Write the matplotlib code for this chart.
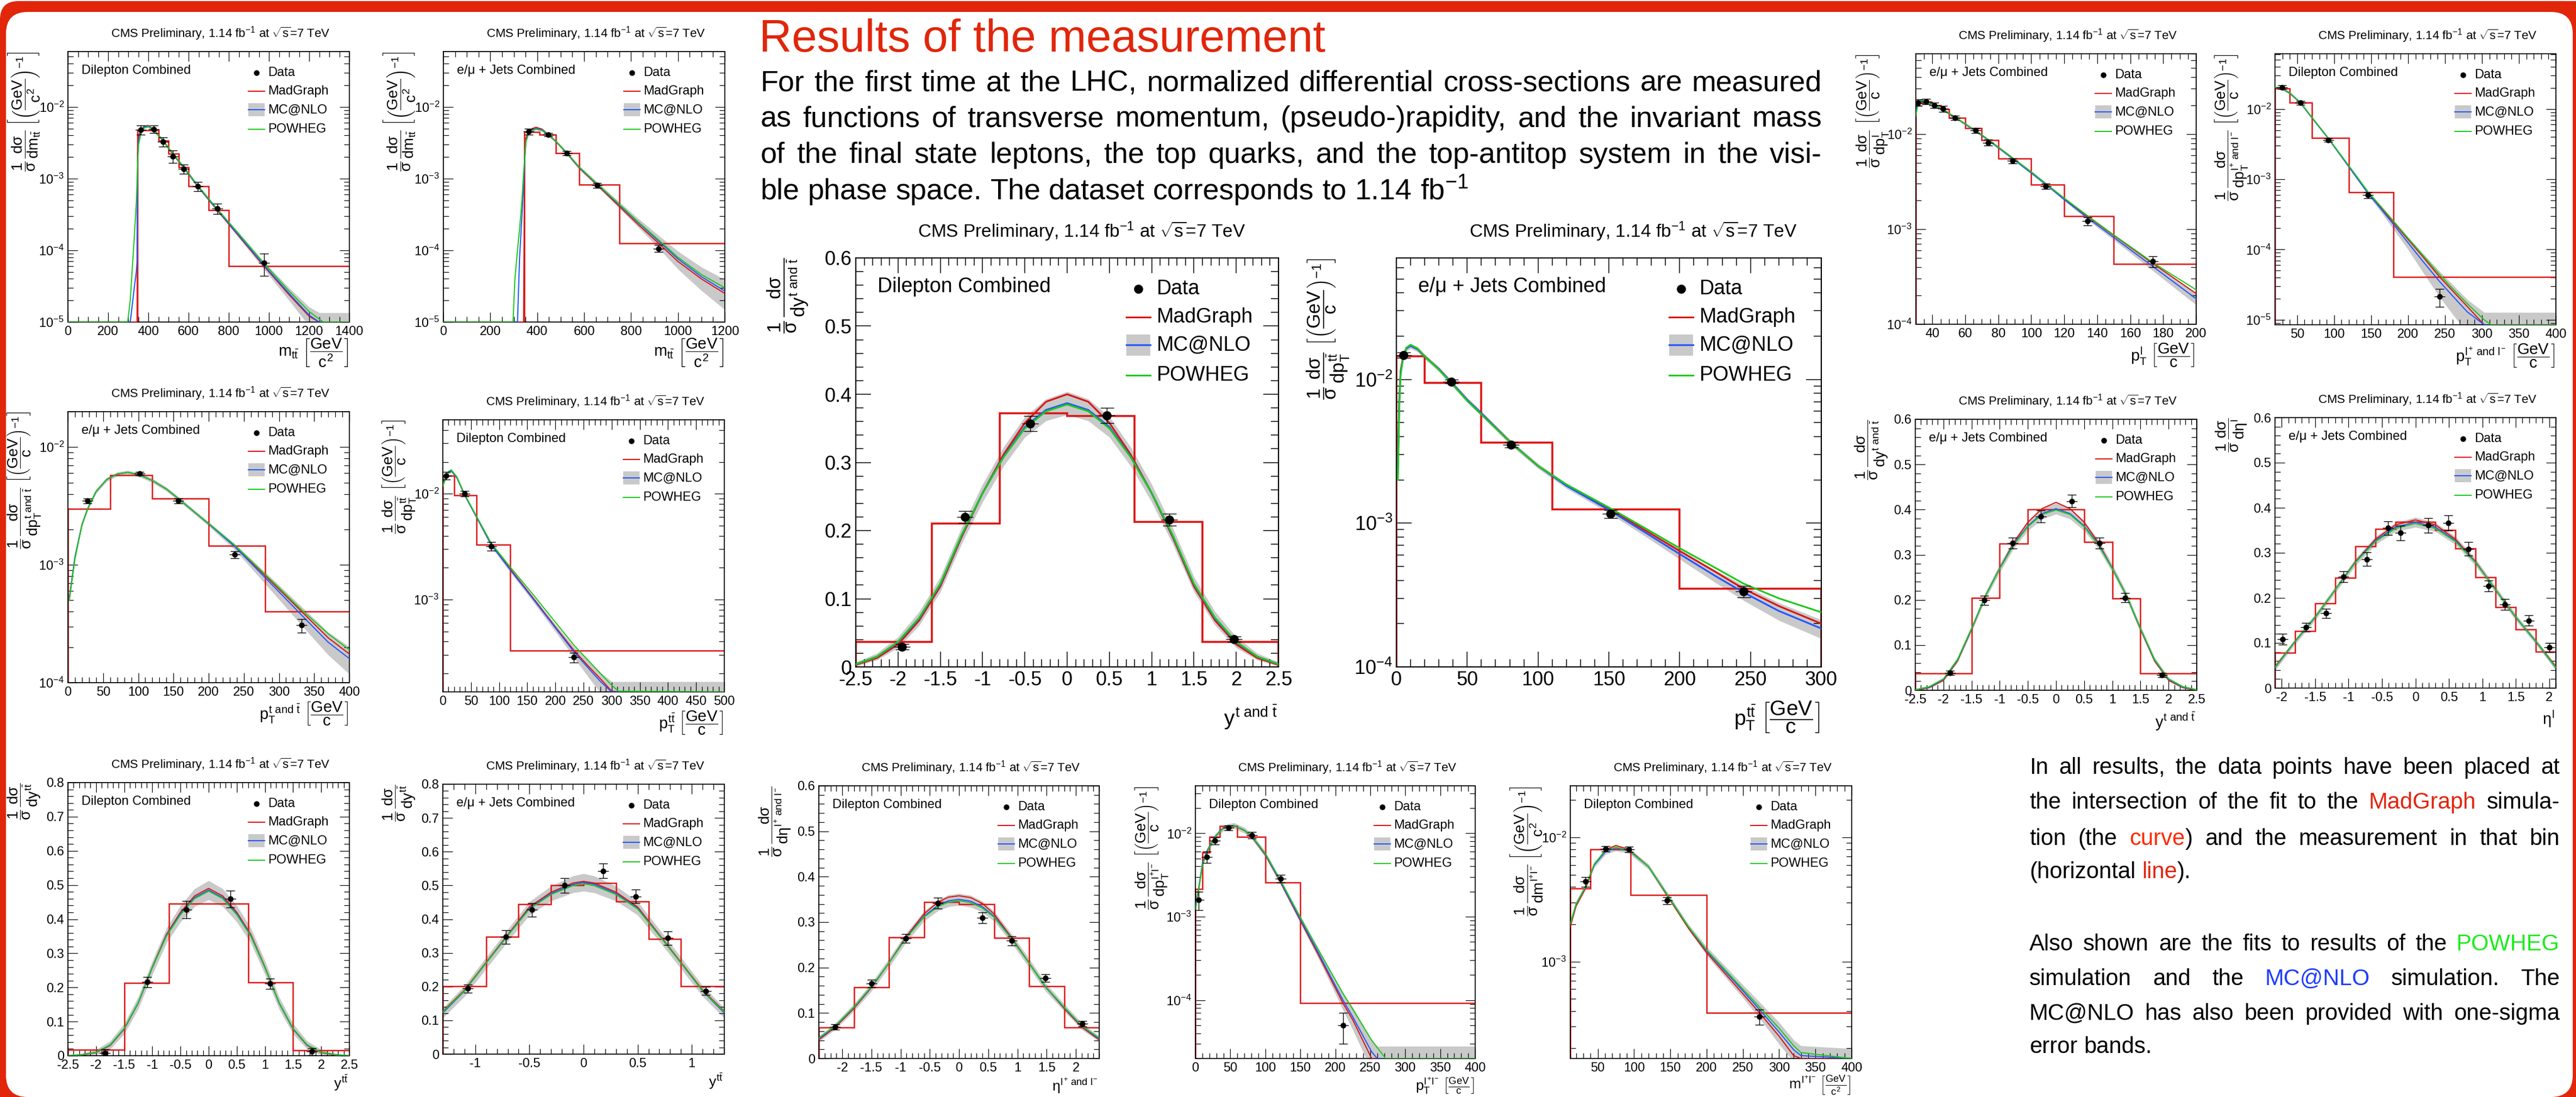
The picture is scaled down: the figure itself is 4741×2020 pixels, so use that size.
import re
import numpy as np
import matplotlib
matplotlib.use("Agg")
import matplotlib.pyplot as plt
from matplotlib.patches import FancyBboxPatch, Rectangle
from matplotlib.lines import Line2D
from matplotlib.ticker import (MultipleLocator, LogLocator, NullFormatter,
                               FuncFormatter, LogFormatterMathtext)

plt.rcParams['font.family'] = ['Liberation Sans', 'DejaVu Sans']
plt.rcParams['mathtext.fontset'] = 'custom'
plt.rcParams['mathtext.rm'] = 'Liberation Sans'
plt.rcParams['mathtext.it'] = 'Liberation Sans'
plt.rcParams['mathtext.bf'] = 'Liberation Sans:bold'
plt.rcParams['mathtext.sf'] = 'Liberation Sans'
plt.rcParams['axes.unicode_minus'] = False

# ======================= DATA =======================
# P1  Dilepton, m_tt
p1_edges = [345, 400, 450, 500, 550, 600, 700, 800, 1400]
p1_bins = [0.00474, 0.00474, 0.00339, 0.00221, 0.00144, 0.000785, 0.000364, 6.03e-5]
p1_x = [363, 428, 473, 521, 575, 645, 742, 975]
p1_y = [0.0048, 0.0049, 0.00327, 0.00205, 0.00136, 0.000785, 0.000384, 6.67e-5]
p1_err = [0.0007, 0.0006, 0.0005, 0.0004, 0.0002, 0.00012, 0.00006, 2.3e-5]
p1_cx = [0, 297, 310, 330, 340, 344, 346, 352, 363, 380, 400, 428, 473, 521, 575, 645, 742, 850, 975, 1100, 1200, 1250, 1270, 1400]
p1_mg = [1e-5, 1e-5, 1e-5, 1e-5, 1e-5, 1e-5, 0.0022, 0.0040, 0.00474, 0.0054, 0.0055, 0.00474, 0.00339, 0.00221, 0.00144, 7.85e-4, 3.64e-4, 1.58e-4, 6.03e-5, 2.4e-5, 1.2e-5, 1e-5, 1e-5, 1e-5]
p1_nlo = [1e-5, 1e-5, 1e-5, 3e-5, 5e-5, 7e-5, 0.0015, 0.0035, 0.0046, 0.0053, 0.0054, 0.0047, 0.0034, 0.00222, 0.00145, 7.9e-4, 3.7e-4, 1.62e-4, 6.2e-5, 2.5e-5, 1.25e-5, 1e-5, 1e-5, 1e-5]
p1_pow = [1e-5, 1e-5, 2e-5, 1.5e-4, 4.5e-4, 9e-4, 0.0015, 0.003, 0.0043, 0.0051, 0.0053, 0.0047, 0.0034, 0.00224, 0.00147, 8.1e-4, 3.8e-4, 1.7e-4, 6.6e-5, 2.7e-5, 1.4e-5, 1.1e-5, 1e-5, 1e-5]
p1_band = [0.05] * 17 + [0.08, 0.12, 0.2, 0.3, 0.35, 0.35, 0.35]

# P2  l+jets, m_tt
p2_edges = [345, 410, 480, 580, 750, 1200]
p2_bins = [0.0045, 0.0041, 0.00226, 0.00082, 0.000126]
p2_x = [363, 447, 526, 655, 917]
p2_y = [0.00452, 0.00409, 0.00226, 0.000804, 0.000106]
p2_err = [0.0004, 0.0002, 0.00015, 0.00006, 1.2e-5]
p2_cx = [0, 297, 305, 316, 325, 335, 342, 346, 352, 363, 380, 395, 420, 447, 480, 526, 580, 655, 750, 830, 917, 1000, 1100, 1200]
p2_mg = [1e-5] * 7 + [0.0020, 0.0037, 0.0045, 0.0050, 0.0052, 0.0049, 0.0041, 0.0033, 0.00226, 0.0014, 0.00082, 4.1e-4, 2.3e-4, 1.26e-4, 7.0e-5, 4.0e-5, 2.5e-5]
p2_nlo = [1e-5, 1e-5, 1e-5, 1e-5, 8e-5, 3e-4, 8e-4, 0.0016, 0.0033, 0.0043, 0.0048, 0.0050, 0.0048, 0.0041, 0.0033, 0.00228, 0.00142, 8.4e-4, 4.3e-4, 2.45e-4, 1.35e-4, 7.6e-5, 4.3e-5, 2.7e-5]
p2_pow = [1e-5, 1e-5, 4e-5, 1e-4, 2e-4, 5e-4, 1.2e-3, 0.0018, 0.0033, 0.0042, 0.0047, 0.0049, 0.0047, 0.0041, 0.0033, 0.0023, 0.00144, 8.5e-4, 4.4e-4, 2.5e-4, 1.4e-4, 8.0e-5, 4.6e-5, 3.0e-5]
p2_band = [0.05] * 16 + [0.06, 0.07, 0.1, 0.14, 0.2, 0.28, 0.36, 0.45]

# P3  l+jets, pT top
p3_edges = [0, 60, 120, 200, 280, 400]
p3_bins = [0.0030, 0.0058, 0.00365, 0.00145, 0.000402]
p3_x = [28, 102, 157, 237, 332]
p3_y = [0.00349, 0.00596, 0.00349, 0.00122, 0.000307]
p3_err = [0.00015, 0.0002, 0.00015, 0.00008, 0.00004]
p3_cx = [2, 10, 20, 28, 40, 55, 70, 85, 102, 120, 140, 157, 180, 200, 237, 270, 300, 332, 370, 400]
p3_mg = [5.2e-4, 0.00116, 0.0022, 0.0030, 0.0042, 0.0053, 0.0059, 0.0061, 0.0058, 0.0052, 0.0044, 0.00365, 0.0028, 0.00223, 0.00145, 9.3e-4, 6.2e-4, 4.02e-4, 2.4e-4, 1.75e-4]
p3_nlo = [5.2e-4, 0.00116, 0.0022, 0.0030, 0.0042, 0.0053, 0.0059, 0.0061, 0.0058, 0.0052, 0.0044, 0.00365, 0.0028, 0.00223, 0.00143, 9.0e-4, 5.9e-4, 3.75e-4, 2.2e-4, 1.6e-4]
p3_pow = [5.0e-4, 0.00112, 0.0022, 0.0030, 0.0042, 0.0053, 0.0059, 0.0061, 0.0058, 0.0052, 0.0044, 0.00366, 0.0028, 0.00225, 0.00147, 9.5e-4, 6.4e-4, 4.15e-4, 2.6e-4, 1.9e-4]
p3_band = [0.04] * 14 + [0.06, 0.1, 0.14, 0.18, 0.22, 0.26]

# P4  dilepton, pT ttbar
p4_edges = [0, 20, 60, 120, 500]
p4_bins = [0.0148, 0.0097, 0.0033, 3.3e-4]
p4_x = [6, 39, 86, 233]
p4_y = [0.0148, 0.0100, 0.00318, 2.85e-4]
p4_err = [0.0012, 0.0006, 0.0003, 3e-5]
p4_cx = [0, 6, 10, 15, 25, 39, 60, 86, 120, 160, 200, 233, 260, 280, 300, 312, 500]
p4_mg = [0.0125, 0.0148, 0.0160, 0.0166, 0.0142, 0.0097, 0.0060, 0.0033, 0.00194, 0.00104, 5.5e-4, 3.3e-4, 2.3e-4, 1.78e-4, 1.36e-4, 1.34e-4, 1.34e-4]
p4_nlo = [0.0120, 0.0146, 0.0159, 0.0165, 0.0142, 0.0097, 0.0060, 0.0033, 0.0019, 0.00102, 5.4e-4, 3.2e-4, 2.2e-4, 1.68e-4, 1.34e-4, 1.34e-4, 1.34e-4]
p4_pow = [0.0118, 0.0145, 0.0162, 0.0168, 0.0144, 0.0098, 0.0061, 0.0034, 0.00202, 0.00112, 6.1e-4, 3.7e-4, 2.6e-4, 2.0e-4, 1.55e-4, 1.36e-4, 1.34e-4]
p4_band = [0.04, 0.04, 0.04, 0.04, 0.04, 0.04, 0.04, 0.05, 0.05, 0.06, 0.08, 0.12, 0.18, 0.22, 0.25, 0.25, 0.25]

# P5  dilepton, y ttbar
p5_edges = [-2.5, -1.5, -0.7, 0, 0.7, 1.5, 2.5]
p5_bins = [0.017, 0.213, 0.445, 0.445, 0.214, 0.0164]
p5_x = [-1.84, -1.095, -0.397, 0.388, 1.086, 1.836]
p5_y = [0.0085, 0.216, 0.428, 0.459, 0.211, 0.012]
p5_err = [0.01, 0.015, 0.025, 0.025, 0.015, 0.01]
p5_cx = [-2.5, -2.25, -2, -1.75, -1.5, -1.25, -1, -0.75, -0.5, -0.25, 0, 0.25, 0.5, 0.75, 1, 1.25, 1.5, 1.75, 2, 2.25, 2.5]
p5_mg = [0.0, 0.002, 0.009, 0.03, 0.078, 0.155, 0.26, 0.355, 0.42, 0.468, 0.490, 0.468, 0.42, 0.355, 0.26, 0.155, 0.078, 0.03, 0.009, 0.002, 0.0]
p5_nlo = [0.0, 0.003, 0.01, 0.031, 0.079, 0.155, 0.258, 0.352, 0.416, 0.463, 0.485, 0.463, 0.416, 0.352, 0.258, 0.155, 0.079, 0.031, 0.01, 0.003, 0.0]
p5_pow = [0.0, 0.003, 0.01, 0.032, 0.08, 0.156, 0.258, 0.35, 0.413, 0.46, 0.482, 0.46, 0.413, 0.35, 0.258, 0.156, 0.08, 0.032, 0.01, 0.003, 0.0]
p5_band = [0.002, 0.004, 0.008, 0.012, 0.015, 0.018, 0.02, 0.022, 0.024, 0.026, 0.028, 0.026, 0.024, 0.022, 0.02, 0.018, 0.015, 0.012, 0.008, 0.004, 0.002]

# P6  l+jets, y ttbar
p6_edges = [-1.3, -0.9, -0.6, -0.3, 0, 0.3, 0.6, 0.9, 1.3]
p6_bins = [0.202, 0.347, 0.444, 0.5, 0.507, 0.453, 0.341, 0.202]
p6_x = [-1.07, -0.72, -0.475, -0.175, 0.18, 0.48, 0.78, 1.13]
p6_y = [0.194, 0.347, 0.428, 0.5, 0.543, 0.467, 0.344, 0.187]
p6_err = [0.012, 0.02, 0.02, 0.022, 0.022, 0.02, 0.02, 0.012]
p6_cx = [-1.3, -1.1, -0.9, -0.7, -0.5, -0.3, -0.1, 0, 0.1, 0.3, 0.5, 0.7, 0.9, 1.1, 1.3]
p6_mg = [0.127, 0.19, 0.272, 0.354, 0.436, 0.48, 0.507, 0.512, 0.507, 0.48, 0.436, 0.354, 0.272, 0.19, 0.127]
p6_nlo = [0.122, 0.187, 0.27, 0.352, 0.432, 0.476, 0.503, 0.509, 0.503, 0.476, 0.432, 0.352, 0.27, 0.187, 0.122]
p6_pow = [0.125, 0.188, 0.27, 0.351, 0.43, 0.473, 0.499, 0.505, 0.499, 0.473, 0.43, 0.351, 0.27, 0.188, 0.125]
p6_band = [0.015, 0.016, 0.017, 0.018, 0.02, 0.022, 0.025, 0.026, 0.025, 0.022, 0.02, 0.018, 0.017, 0.016, 0.015]

# P7  dilepton, eta leptons
p7_edges = [-2.4, -1.8, -1.2, -0.6, 0, 0.6, 1.2, 1.8, 2.4]
p7_bins = [0.0677, 0.156, 0.267, 0.344, 0.340, 0.265, 0.159, 0.068]
p7_x = [-2.125, -1.5, -0.91, -0.36, 0.4, 0.9, 1.475, 2.11]
p7_y = [0.0693, 0.165, 0.264, 0.342, 0.31, 0.259, 0.177, 0.076]
p7_err = [0.006, 0.008, 0.01, 0.012, 0.012, 0.01, 0.008, 0.006]
p7_cx = [-2.4, -2.125, -1.8, -1.5, -1.2, -0.91, -0.6, -0.36, -0.18, 0, 0.2, 0.4, 0.6, 0.9, 1.2, 1.475, 1.8, 2.11, 2.4]
p7_mg = [0.041, 0.068, 0.11, 0.156, 0.21, 0.267, 0.318, 0.344, 0.355, 0.358, 0.354, 0.341, 0.318, 0.266, 0.21, 0.159, 0.11, 0.068, 0.041]
p7_nlo = [0.043, 0.07, 0.112, 0.157, 0.21, 0.265, 0.313, 0.337, 0.347, 0.350, 0.346, 0.334, 0.313, 0.264, 0.21, 0.158, 0.112, 0.07, 0.043]
p7_pow = [0.045, 0.071, 0.113, 0.158, 0.21, 0.264, 0.311, 0.334, 0.344, 0.347, 0.343, 0.331, 0.311, 0.263, 0.21, 0.159, 0.113, 0.071, 0.045]
p7_band = [0.006, 0.007, 0.008, 0.009, 0.01, 0.01, 0.011, 0.012, 0.013, 0.013, 0.013, 0.012, 0.011, 0.01, 0.01, 0.009, 0.008, 0.007, 0.006]

# P8  dilepton, pT lepton pair
p8_edges = [0, 10, 20, 35, 60, 100, 150, 400]
p8_bins = [0.00215, 0.0059, 0.0090, 0.0122, 0.0090, 0.00255, 9.2e-5]
p8_x = [5, 16, 28, 47, 81, 122, 211]
p8_y = [0.0016, 0.0052, 0.0081, 0.0116, 0.0095, 0.00285, 5e-5]
p8_err = [0.0004, 0.0008, 0.0008, 0.0008, 0.0008, 0.0003, 2e-5]
p8_cx = [0, 5, 10, 16, 28, 40, 55, 70, 81, 100, 122, 150, 175, 200, 211, 225, 252, 260, 272, 400]
p8_mg = [0.0012, 0.00215, 0.0042, 0.0059, 0.009, 0.0115, 0.0123, 0.0108, 0.009, 0.0055, 0.00255, 9.0e-4, 3.6e-4, 1.4e-4, 9.2e-5, 5.8e-5, 2e-5, 2e-5, 2e-5, 2e-5]
p8_nlo = [0.0013, 0.0023, 0.0043, 0.006, 0.0091, 0.0116, 0.0124, 0.0109, 0.0091, 0.0056, 0.0026, 9.3e-4, 3.8e-4, 1.5e-4, 1.0e-4, 6.3e-5, 2.4e-5, 2e-5, 2e-5, 2e-5]
p8_pow = [0.0012, 0.0022, 0.0041, 0.0058, 0.009, 0.0115, 0.0123, 0.0109, 0.0092, 0.0057, 0.0027, 9.8e-4, 4.1e-4, 1.75e-4, 1.2e-4, 7.8e-5, 3.3e-5, 2.7e-5, 2e-5, 2e-5]
p8_band = [0.08] * 11 + [0.1, 0.14, 0.2, 0.24, 0.3, 0.4, 0.4, 0.4, 0.4]

# P9  dilepton, m lepton pair
p9_edges = [12, 40, 76, 95, 200, 400]
p9_bins = [0.00388, 0.0080, 0.0080, 0.00344, 3.86e-4]
p9_x = [33, 61, 93, 145, 273]
p9_y = [0.0044, 0.0081, 0.0080, 0.00311, 3.6e-4]
p9_err = [0.0004, 0.0004, 0.0004, 0.0002, 5e-5]
p9_cx = [12, 20, 33, 45, 61, 75, 93, 120, 145, 175, 200, 250, 273, 300, 320, 330, 400]
p9_mg = [0.0019, 0.0028, 0.00388, 0.0060, 0.0080, 0.0086, 0.0080, 0.0058, 0.00344, 0.00185, 0.00118, 5.5e-4, 3.86e-4, 2.5e-4, 1.75e-4, 1.66e-4, 1.66e-4]
p9_nlo = [0.0020, 0.0029, 0.0040, 0.0060, 0.0077, 0.0082, 0.0078, 0.0058, 0.0035, 0.0019, 0.00122, 5.8e-4, 4.1e-4, 2.7e-4, 1.95e-4, 1.75e-4, 1.66e-4]
p9_pow = [0.0020, 0.0029, 0.0040, 0.0061, 0.0079, 0.0083, 0.0079, 0.0058, 0.0035, 0.0019, 0.00124, 6.0e-4, 4.3e-4, 2.9e-4, 2.1e-4, 1.85e-4, 1.66e-4]
p9_band = [0.05] * 10 + [0.08, 0.12, 0.15, 0.2, 0.2, 0.2, 0.2]

# PA  dilepton, y top (large)
pa_edges = [-2.5, -1.6, -0.8, 0, 0.8, 1.6, 2.5]
pa_bins = [0.037, 0.2107, 0.3725, 0.368, 0.213, 0.0366]
pa_x = [-1.955, -1.21, -0.44, 0.468, 1.206, 1.973]
pa_y = [0.0297, 0.22, 0.357, 0.369, 0.216, 0.041]
pa_err = [0.004, 0.009, 0.011, 0.011, 0.009, 0.004]
pa_cx = [-2.5, -2.25, -2, -1.75, -1.5, -1.25, -1, -0.75, -0.5, -0.25, 0, 0.25, 0.5, 0.75, 1, 1.25, 1.5, 1.75, 2, 2.25, 2.5]
pa_mg = [0.003, 0.013, 0.033, 0.068, 0.118, 0.19, 0.255, 0.312, 0.358, 0.389, 0.400, 0.389, 0.358, 0.312, 0.255, 0.19, 0.118, 0.068, 0.033, 0.013, 0.003]
pa_nlo = [0.004, 0.015, 0.036, 0.071, 0.121, 0.192, 0.255, 0.309, 0.352, 0.377, 0.387, 0.377, 0.352, 0.309, 0.255, 0.192, 0.121, 0.071, 0.036, 0.015, 0.004]
pa_pow = [0.004, 0.015, 0.037, 0.072, 0.122, 0.193, 0.255, 0.308, 0.350, 0.375, 0.385, 0.375, 0.350, 0.308, 0.255, 0.193, 0.122, 0.072, 0.037, 0.015, 0.004]
pa_band = [0.003, 0.005, 0.008, 0.01, 0.011, 0.012, 0.013, 0.014, 0.015, 0.016, 0.017, 0.016, 0.015, 0.014, 0.013, 0.012, 0.011, 0.01, 0.008, 0.005, 0.003]

# PB  l+jets, pT ttbar (large)
pb_edges = [0, 20, 60, 110, 200, 300]
pb_bins = [0.0145, 0.0095, 0.00363, 0.00125, 3.5e-4]
pb_x = [4.8, 38.9, 80.9, 151, 245]
pb_y = [0.01476, 0.00966, 0.00351, 0.00116, 3.35e-4]
pb_err = [0.0006, 0.0003, 0.00015, 0.00008, 3e-5]
pb_cx = [1, 2, 3, 4.8, 7, 10, 15, 20, 30, 38.9, 50, 60, 80.9, 100, 120, 151, 175, 200, 225, 245, 270, 300]
pb_mg = [0.0024, 0.0072, 0.0115, 0.0145, 0.0165, 0.0172, 0.0162, 0.0145, 0.0118, 0.0095, 0.0072, 0.0058, 0.00363, 0.0025, 0.00185, 0.00125, 9.0e-4, 6.4e-4, 4.6e-4, 3.5e-4, 2.65e-4, 2.0e-4]
pb_nlo = [0.0022, 0.0068, 0.0112, 0.0143, 0.0164, 0.0171, 0.0162, 0.0144, 0.0118, 0.0095, 0.0072, 0.0058, 0.00362, 0.0025, 0.00182, 0.00122, 8.7e-4, 6.1e-4, 4.3e-4, 3.3e-4, 2.45e-4, 1.85e-4]
pb_pow = [0.0020, 0.0062, 0.0108, 0.0142, 0.0166, 0.0174, 0.0164, 0.0145, 0.0117, 0.0094, 0.0071, 0.0057, 0.00362, 0.0025, 0.00186, 0.00127, 9.3e-4, 6.7e-4, 4.9e-4, 3.8e-4, 3.0e-4, 2.4e-4]
pb_band = [0.04] * 15 + [0.05, 0.06, 0.08, 0.1, 0.12, 0.14, 0.15]

# P12 l+jets, pT lepton
p12_edges = [30, 35, 40, 45, 50, 60, 70, 80, 100, 120, 150, 200]
p12_bins = [0.0212, 0.0218, 0.0201, 0.0182, 0.0148, 0.0116, 0.0087, 0.0055, 0.00294, 0.00137, 4.32e-4]
p12_x = [31.3, 36.3, 41.3, 46.4, 53.6, 66.1, 73.7, 88.7, 108.7, 134, 173.8]
p12_y = [0.0215, 0.0221, 0.0200, 0.0185, 0.0149, 0.0109, 0.00814, 0.00524, 0.00283, 0.00121, 4.58e-4]
p12_err = [0.0017, 0.0015, 0.0013, 0.0013, 0.0008, 0.0006, 0.0006, 0.0003, 0.0002, 0.00012, 6e-5]
p12_cx = [30, 31, 33, 36, 41, 46, 54, 60, 70, 80, 90, 100, 110, 120, 135, 150, 175, 200]
p12_mg = [0.016, 0.020, 0.0226, 0.0222, 0.0202, 0.0183, 0.0150, 0.0128, 0.0098, 0.0073, 0.0054, 0.0040, 0.0029, 0.0021, 0.00133, 8.6e-4, 4.2e-4, 2.1e-4]
p12_nlo = [0.0165, 0.0205, 0.0228, 0.0222, 0.0202, 0.0182, 0.0149, 0.0127, 0.0097, 0.0072, 0.0053, 0.0039, 0.00285, 0.00205, 0.00128, 8.2e-4, 3.9e-4, 1.85e-4]
p12_pow = [0.0155, 0.0195, 0.0224, 0.0221, 0.0202, 0.0183, 0.0150, 0.0128, 0.0098, 0.0073, 0.0054, 0.0040, 0.0029, 0.00212, 0.00135, 8.7e-4, 4.3e-4, 2.3e-4]
p12_band = [0.03] * 14 + [0.05, 0.06, 0.1, 0.14]

# P13 dilepton, pT leptons
p13_edges = [20, 40, 70, 120, 180, 400]
p13_bins = [0.0196, 0.0122, 0.00386, 6.57e-4, 4.07e-5]
p13_x = [29.2, 54.5, 91.7, 145.5, 242.7]
p13_y = [0.0204, 0.0122, 0.00362, 5.97e-4, 2.13e-5]
p13_err = [0.0012, 0.0008, 0.0002, 6e-5, 6e-6]
p13_cx = [20, 29.2, 40, 54.5, 70, 91.7, 110, 130, 145.5, 165, 180, 200, 220, 242.7, 260, 280, 303, 312, 400]
p13_mg = [0.0203, 0.0196, 0.0168, 0.0122, 0.0075, 0.00386, 0.0021, 0.00109, 6.57e-4, 3.77e-4, 2.45e-4, 1.39e-4, 7.9e-5, 4.07e-5, 2.6e-5, 1.55e-5, 8.5e-6, 8.5e-6, 8.5e-6]
p13_nlo = [0.0203, 0.0196, 0.0168, 0.0122, 0.0075, 0.00386, 0.0021, 0.00107, 6.4e-4, 3.6e-4, 2.3e-4, 1.25e-4, 6.8e-5, 3.5e-5, 2.2e-5, 1.3e-5, 8.5e-6, 8.5e-6, 8.5e-6]
p13_pow = [0.0205, 0.0198, 0.0170, 0.0123, 0.0076, 0.0039, 0.00215, 0.00112, 6.7e-4, 3.9e-4, 2.55e-4, 1.45e-4, 8.3e-5, 4.4e-5, 2.8e-5, 1.7e-5, 1.0e-5, 8.5e-6, 8.5e-6]
p13_band = [0.04] * 8 + [0.06, 0.1, 0.15, 0.2, 0.3, 0.4, 0.45, 0.5, 0.5, 0.5, 0.5]

# P14 l+jets, y top
p14_edges = [-2.5, -1.5, -1, -0.5, 0, 0.5, 1, 1.5, 2.5]
p14_bins = [0.0374, 0.204, 0.325, 0.4006, 0.4006, 0.328, 0.203, 0.037]
p14_x = [-1.878, -1.274, -0.768, -0.271, 0.28, 0.777, 1.23, 1.878]
p14_y = [0.0384, 0.199, 0.326, 0.385, 0.419, 0.326, 0.205, 0.0334]
p14_err = [0.005, 0.01, 0.012, 0.013, 0.014, 0.012, 0.01, 0.005]
p14_cx = [-2.5, -2.25, -2, -1.75, -1.5, -1.25, -1, -0.75, -0.5, -0.25, 0, 0.25, 0.5, 0.75, 1, 1.25, 1.5, 1.75, 2, 2.25, 2.5]
p14_mg = [0.0, 0.006, 0.022, 0.065, 0.135, 0.21, 0.27, 0.327, 0.372, 0.402, 0.416, 0.402, 0.372, 0.327, 0.27, 0.21, 0.135, 0.065, 0.022, 0.006, 0.0]
p14_nlo = [0.001, 0.007, 0.024, 0.067, 0.136, 0.21, 0.27, 0.324, 0.364, 0.391, 0.402, 0.391, 0.364, 0.324, 0.27, 0.21, 0.136, 0.067, 0.024, 0.007, 0.001]
p14_pow = [0.001, 0.008, 0.025, 0.068, 0.137, 0.21, 0.269, 0.322, 0.362, 0.389, 0.399, 0.389, 0.362, 0.322, 0.269, 0.21, 0.137, 0.068, 0.025, 0.008, 0.001]
p14_band = [0.002, 0.003, 0.004, 0.006, 0.007, 0.008, 0.009, 0.01, 0.011, 0.012, 0.012, 0.012, 0.011, 0.01, 0.009, 0.008, 0.007, 0.006, 0.004, 0.003, 0.002]

# P15 l+jets, eta lepton
p15_edges = [-2.1, -1.8, -1.5, -1.2, -0.9, -0.6, -0.3, 0, 0.3, 0.6, 0.9, 1.2, 1.5, 1.8, 2.1]
p15_bins = [0.078, 0.126, 0.188, 0.244, 0.314, 0.353, 0.369, 0.369, 0.351, 0.31, 0.246, 0.18, 0.13, 0.081]
p15_x = [-1.985, -1.64, -1.34, -1.08, -0.73, -0.41, -0.225, 0.19, 0.49, 0.79, 1.09, 1.34, 1.69, 2.0]
p15_y = [0.108, 0.135, 0.166, 0.247, 0.286, 0.355, 0.344, 0.361, 0.366, 0.309, 0.226, 0.185, 0.150, 0.09]
p15_err = [0.012, 0.01, 0.01, 0.012, 0.015, 0.015, 0.016, 0.016, 0.017, 0.015, 0.012, 0.012, 0.012, 0.01]
p15_cx = [-2.1, -1.8, -1.5, -1.2, -0.9, -0.6, -0.3, 0, 0.3, 0.6, 0.9, 1.2, 1.5, 1.8, 2.1]
p15_mg = [0.048, 0.104, 0.157, 0.218, 0.28, 0.33, 0.362, 0.373, 0.362, 0.33, 0.28, 0.218, 0.157, 0.104, 0.048]
p15_nlo = [0.045, 0.103, 0.157, 0.218, 0.279, 0.327, 0.357, 0.368, 0.357, 0.327, 0.279, 0.218, 0.157, 0.103, 0.045]
p15_pow = [0.046, 0.104, 0.158, 0.218, 0.278, 0.325, 0.354, 0.365, 0.354, 0.325, 0.278, 0.218, 0.158, 0.104, 0.046]
p15_band = [0.006, 0.006, 0.007, 0.007, 0.008, 0.009, 0.01, 0.011, 0.01, 0.009, 0.008, 0.007, 0.007, 0.006, 0.006]

legend_names = ['Data', 'MadGraph', 'MC@NLO', 'POWHEG']

# ======================= STYLE =======================
W, H = 4741, 2020
POSTER_RED = '#E1260A'
MG_C = '#DC1414'
NLO_C = '#2457FF'
POW_C = '#1DC81D'
BAND_C = '#C9C9C9'
TITLE = r'CMS Preliminary, 1.14 fb$^{-1}$ at $\sqrt{s}$=7 TeV'
DIL = 'Dilepton Combined'
LJ = 'e/\u03bc + Jets Combined'

F1 = r'\dfrac{1}{\sigma}\,'
GEVC = r'\ \left[\left(\dfrac{GeV}{c}\right)^{-1}\right]'
GEVC2 = r'\ \left[\left(\dfrac{GeV}{c^{2}}\right)^{-1}\right]'
YL_MTT = '$' + F1 + r'\dfrac{d\sigma}{dm_{t\bar{t}}}' + GEVC2 + '$'
YL_PT_T = '$' + F1 + r'\dfrac{d\sigma}{dp_{T}^{t\ and\ \bar{t}}}' + GEVC + '$'
YL_PTTT = '$' + F1 + r'\dfrac{d\sigma}{dp_{T}^{t\bar{t}}}' + GEVC + '$'
YL_YTT = '$' + F1 + r'\dfrac{d\sigma}{dy^{t\bar{t}}}$'
YL_ETA_LL = '$' + F1 + r'\dfrac{d\sigma}{d\eta^{l^{+}\ and\ l^{-}}}$'
YL_PT_LL = '$' + F1 + r'\dfrac{d\sigma}{dp_{T}^{l^{+}l^{-}}}' + GEVC + '$'
YL_M_LL = '$' + F1 + r'\dfrac{d\sigma}{dm^{l^{+}l^{-}}}' + GEVC2 + '$'
YL_Y_T = '$' + F1 + r'\dfrac{d\sigma}{dy^{t\ and\ \bar{t}}}$'
YL_PT_L = '$' + F1 + r'\dfrac{d\sigma}{dp_{T}^{l}}' + GEVC + '$'
YL_PT_LPM = '$' + F1 + r'\dfrac{d\sigma}{dp_{T}^{l^{+}\ and\ l^{-}}}' + GEVC + '$'
YL_ETA_L = '$' + F1 + r'\dfrac{d\sigma}{d\eta^{l}}$'

XL_MTT = r'$m_{t\bar{t}}\ \left[\dfrac{GeV}{c^{2}}\right]$'
XL_PT_T = r'$p_{T}^{t\ and\ \bar{t}}\ \left[\dfrac{GeV}{c}\right]$'
XL_PTTT = r'$p_{T}^{t\bar{t}}\ \left[\dfrac{GeV}{c}\right]$'
XL_YTT = r'$y^{t\bar{t}}$'
XL_ETA_LL = r'$\eta^{l^{+}\ and\ l^{-}}$'
XL_PT_LL = r'$p_{T}^{l^{+}l^{-}}\ \left[\frac{GeV}{c}\right]$'
XL_M_LL = r'$m^{l^{+}l^{-}}\ \left[\frac{GeV}{c^{2}}\right]$'
XL_Y_T = r'$y^{t\ and\ \bar{t}}$'
XL_PT_L = r'$p_{T}^{l}\ \left[\dfrac{GeV}{c}\right]$'
XL_PT_LPM = r'$p_{T}^{l^{+}\ and\ l^{-}}\ \left[\dfrac{GeV}{c}\right]$'
XL_ETA_L = r'$\eta^{l}$'


def P(frame, xlim, ylim, log, xmaj, xmn, edges, bins, x, y, err, cx, mg, nlo, pw, band,
      label, yl, xl, big=False, ymaj=0.1, ymn=0.02, tdx=22):
    return dict(frame=frame, xlim=xlim, ylim=ylim, log=log, xmaj=xmaj, xmn=xmn,
                edges=edges, bins=bins, x=x, y=y, err=err, cx=cx, mg=mg, nlo=nlo,
                pw=pw, band=band, label=label, yl=yl, xl=xl, big=big, ymaj=ymaj,
                ymn=ymn, tdx=tdx)


panels = [
    P((125, 95, 643, 593), (0, 1400), (1e-5, 0.059), True, 200, 50, p1_edges, p1_bins, p1_x, p1_y, p1_err, p1_cx, p1_mg, p1_nlo, p1_pow, p1_band, DIL, YL_MTT, XL_MTT),
    P((816, 95, 1334, 593), (0, 1200), (1e-5, 0.059), True, 200, 50, p2_edges, p2_bins, p2_x, p2_y, p2_err, p2_cx, p2_mg, p2_nlo, p2_pow, p2_band, LJ, YL_MTT, XL_MTT),
    P((125, 758, 643, 1257), (0, 400), (1e-4, 0.02), True, 50, 10, p3_edges, p3_bins, p3_x, p3_y, p3_err, p3_cx, p3_mg, p3_nlo, p3_pow, p3_band, LJ, YL_PT_T, XL_PT_T),
    P((815, 773, 1333, 1274), (0, 500), (1.34e-4, 0.05), True, 50, 10, p4_edges, p4_bins, p4_x, p4_y, p4_err, p4_cx, p4_mg, p4_nlo, p4_pow, p4_band, DIL, YL_PTTT, XL_PTTT),
    P((125, 1441, 643, 1944), (-2.5, 2.5), (0, 0.8), False, 0.5, 0.1, p5_edges, p5_bins, p5_x, p5_y, p5_err, p5_cx, p5_mg, p5_nlo, p5_pow, p5_band, DIL, YL_YTT, XL_YTT),
    P((815, 1444, 1333, 1941), (-1.3, 1.3), (0, 0.8), False, 0.5, 0.1, p6_edges, p6_bins, p6_x, p6_y, p6_err, p6_cx, p6_mg, p6_nlo, p6_pow, p6_band, LJ, YL_YTT, XL_YTT),
    P((1507, 1447, 2023, 1949), (-2.4, 2.4), (0, 0.6), False, 0.5, 0.1, p7_edges, p7_bins, p7_x, p7_y, p7_err, p7_cx, p7_mg, p7_nlo, p7_pow, p7_band, DIL, YL_ETA_LL, XL_ETA_LL),
    P((2200, 1447, 2715, 1949), (0, 400), (2e-5, 0.037), True, 50, 10, p8_edges, p8_bins, p8_x, p8_y, p8_err, p8_cx, p8_mg, p8_nlo, p8_pow, p8_band, DIL, YL_PT_LL, XL_PT_LL),
    P((2890, 1447, 3408, 1949), (12, 400), (1.66e-4, 0.026), True, 50, 10, p9_edges, p9_bins, p9_x, p9_y, p9_err, p9_cx, p9_mg, p9_nlo, p9_pow, p9_band, DIL, YL_M_LL, XL_M_LL),
    P((1575, 475, 2353, 1228), (-2.5, 2.5), (0, 0.6), False, 0.5, 0.1, pa_edges, pa_bins, pa_x, pa_y, pa_err, pa_cx, pa_mg, pa_nlo, pa_pow, pa_band, DIL, YL_Y_T, XL_Y_T, big=True, tdx=27),
    P((2570, 475, 3352, 1228), (0, 300), (1e-4, 0.07), True, 50, 10, pb_edges, pb_bins, pb_x, pb_y, pb_err, pb_cx, pb_mg, pb_nlo, pb_pow, pb_band, LJ, YL_PTTT, XL_PTTT, big=True, tdx=45),
    P((3526, 99, 4042, 597), (30, 200), (1e-4, 0.07), True, 20, 5, p12_edges, p12_bins, p12_x, p12_y, p12_err, p12_cx, p12_mg, p12_nlo, p12_pow, p12_band, LJ, YL_PT_L, XL_PT_L),
    P((4187, 99, 4704, 598), (20, 400), (8.5e-6, 0.061), True, 50, 10, p13_edges, p13_bins, p13_x, p13_y, p13_err, p13_cx, p13_mg, p13_nlo, p13_pow, p13_band, DIL, YL_PT_LPM, XL_PT_LPM),
    P((3525, 772, 4043, 1271), (-2.5, 2.5), (0, 0.6), False, 0.5, 0.1, p14_edges, p14_bins, p14_x, p14_y, p14_err, p14_cx, p14_mg, p14_nlo, p14_pow, p14_band, LJ, YL_Y_T, XL_Y_T),
    P((4187, 769, 4704, 1267), (-2.1, 2.1), (0, 0.6), False, 0.5, 0.1, p15_edges, p15_bins, p15_x, p15_y, p15_err, p15_cx, p15_mg, p15_nlo, p15_pow, p15_band, LJ, YL_ETA_L, XL_ETA_L),
]

# ======================= FIGURE =======================
fig = plt.figure(figsize=(W / 100, H / 100), dpi=100)
fig.patch.set_facecolor('white')

bg = fig.add_axes([0, 0, 1, 1], zorder=-10)
bg.set_xlim(0, W)
bg.set_ylim(H, 0)
bg.axis('off')
bg.add_patch(FancyBboxPatch((0, 2), W + 60, H + 60, boxstyle='round,pad=0,rounding_size=34',
                            fc=POSTER_RED, ec='none'))
bg.add_patch(FancyBboxPatch((11, 22), W - 17, H - 22, boxstyle='round,pad=0,rounding_size=40',
                            fc='white', ec='none'))


def fx(px):
    return px / W


def fy(py):
    return 1 - py / H


def lin_fmt(v, pos):
    if abs(v) < 1e-9:
        return '0'
    return '%g' % round(v, 6)


def draw_panel(sp):
    l, t, r, b = sp['frame']
    big = sp['big']
    bottom_row = b > 1900
    fs_tick = 26 if big else 17
    fs_title = 24 if big else 16
    fs_lab = 27 if big else 17
    fs_ay = 25 if big else 20
    fs_ax = 28 if big else (19 if bottom_row else 21)
    x_off = 93 if big else (50 if bottom_row else 57)
    lw_c = 2.3 if big else 1.5
    lw_s = 2.6 if big else 1.8
    ms = 11 if big else 6.5
    cap = 9 if big else 6
    cross = 22 if big else 15
    maj = 20 if big else 13
    mnr = 10 if big else 7
    ax = fig.add_axes([fx(l), fy(b), (r - l) / W, (b - t) / H])
    if sp['log']:
        ax.set_yscale('log')
    ax.set_xlim(*sp['xlim'])
    ax.set_ylim(*sp['ylim'])

    cx = np.array(sp['cx'], float)
    nlo = np.array(sp['nlo'], float)
    bw = np.array(sp['band'], float)
    if sp['log']:
        lo, hi = nlo * (1 - bw), nlo * (1 + bw)
    else:
        lo, hi = nlo - bw, nlo + bw
    ax.fill_between(cx, lo, hi, color=BAND_C, lw=0, zorder=1)
    ax.stairs(sp['bins'], sp['edges'], baseline=sp['ylim'][0], color=MG_C, lw=lw_s, zorder=2)
    ax.plot(cx, sp['mg'], color=MG_C, lw=lw_c, zorder=3)
    ax.plot(cx, nlo, color=NLO_C, lw=lw_c, zorder=4)
    ax.plot(cx, sp['pw'], color=POW_C, lw=lw_c, zorder=5)
    ax.errorbar(sp['x'], sp['y'], yerr=sp['err'], fmt='none', ecolor='black',
                elinewidth=1.0, capsize=cap, capthick=1.0, zorder=6)
    ax.plot(sp['x'], sp['y'], ls='none', marker='_', ms=cross, mew=1.0, color='black', zorder=6)
    ax.plot(sp['x'], sp['y'], ls='none', marker='o', ms=ms, color='black', zorder=7)

    for s in ax.spines.values():
        s.set_linewidth(1.6 if big else 1.3)
        s.set_zorder(2.5)
    ax.xaxis.set_major_locator(MultipleLocator(sp['xmaj']))
    ax.xaxis.set_minor_locator(MultipleLocator(sp['xmn']))
    ax.xaxis.set_major_formatter(FuncFormatter(lin_fmt))
    if sp['log']:
        ax.yaxis.set_major_locator(LogLocator(base=10, numticks=30))
        ax.yaxis.set_minor_locator(LogLocator(base=10, subs=np.arange(2, 10), numticks=200))
        ax.yaxis.set_major_formatter(LogFormatterMathtext())
        ax.yaxis.set_minor_formatter(NullFormatter())
    else:
        ax.yaxis.set_major_locator(MultipleLocator(sp['ymaj']))
        ax.yaxis.set_minor_locator(MultipleLocator(sp['ymn']))
        ax.yaxis.set_major_formatter(FuncFormatter(lin_fmt))
    ax.tick_params(which='both', direction='in', top=True, right=True,
                   width=1.1 if big else 0.9, labelsize=fs_tick)
    ax.tick_params(which='major', length=maj)
    ax.tick_params(which='minor', length=mnr)
    ax.tick_params(axis='x', pad=5)
    ax.tick_params(axis='y', pad=5)

    # title, labels
    fig.text(fx((l + r) / 2 + sp['tdx']), fy(t - (49 if big else 33)), TITLE,
             ha='center', va='center', fontsize=fs_title)
    fig.text(fx(l - (125 if big else 80)), fy(t), sp['yl'], rotation=90,
             rotation_mode='anchor', ha='right', va='center', fontsize=fs_ay)
    fig.text(fx(r - 2), fy(b + x_off), sp['xl'], ha='right', va='center', fontsize=fs_ax)
    fig.text(fx(l + (40 if big else 25)), fy(t + (53 if big else 35)), sp['label'],
             ha='left', va='center', fontsize=fs_lab)

    # legend
    tx = r - (224 if big else 150)
    rows = [t + d for d in ((57, 109, 160, 216) if big else (39, 73, 107, 143))]
    L = 44 if big else 30
    gap = 12 if big else 6
    bh = 39 if big else 24
    x1 = tx - gap
    x0 = x1 - L
    fig.add_artist(Line2D([fx((x0 + x1) / 2)], [fy(rows[0])], marker='o', ms=ms, color='black',
                          ls='none', transform=fig.transFigure))
    fig.add_artist(Line2D([fx(x0), fx(x1)], [fy(rows[1])] * 2, color=MG_C, lw=lw_c,
                          transform=fig.transFigure))
    fig.add_artist(Rectangle((fx(x0), fy(rows[2] + bh / 2)), L / W, bh / H, color=BAND_C,
                             lw=0, transform=fig.transFigure))
    fig.add_artist(Line2D([fx(x0), fx(x1)], [fy(rows[2])] * 2, color=NLO_C, lw=lw_c,
                          transform=fig.transFigure))
    fig.add_artist(Line2D([fx(x0), fx(x1)], [fy(rows[3])] * 2, color=POW_C, lw=lw_c,
                          transform=fig.transFigure))
    for name, ry in zip(legend_names, rows):
        fig.text(fx(tx), fy(ry), name, ha='left', va='center', fontsize=fs_lab)
    return ax


for sp in panels:
    draw_panel(sp)

# ======================= TEXT =======================
renderer = fig.canvas.get_renderer()
TCOL = {'k': 'black', 'r': '#E3240C', 'o': '#FF2A00', 'g': '#1EEB1E', 'b': '#1E3CFF'}


def measure(s, size):
    t = fig.text(0, 0, s, fontsize=size)
    w = t.get_window_extent(renderer).width
    t.remove()
    return w


def frags_of(word):
    out, pos = [], 0
    for m in re.finditer(r'\[(\w):([^\]]+)\]', word):
        if m.start() > pos:
            out.append((word[pos:m.start()], 'k'))
        out.append((m.group(2), m.group(1)))
        pos = m.end()
    if pos < len(word):
        out.append((word[pos:], 'k'))
    return out


def plain(line):
    return re.sub(r'\[(\w):([^\]]+)\]', r'\2', line)


def fit_size(lines, justify, width, fill, base=30.0):
    nat = max(measure(plain(ln), base) for ln, j in zip(lines, justify) if j and ln)
    return base * fill * width / nat


def draw_block(lines, x0, x1, baselines, size, justify):
    sp_w = measure('x x', size) - measure('xx', size)
    for line, yb, just in zip(lines, baselines, justify):
        if not line:
            continue
        words = [frags_of(w) for w in line.split(' ')]
        widths = [[measure(f, size) for f, c in w] for w in words]
        tot = sum(sum(w) for w in widths)
        if just and len(words) > 1:
            gap = (x1 - x0 - tot) / (len(words) - 1)
        else:
            gap = sp_w
        x = x0
        for w, ws in zip(words, widths):
            for (f, c), fw in zip(w, ws):
                fig.text(fx(x), fy(yb), f, fontsize=size, color=TCOL[c], va='baseline', ha='left')
                x += fw
            x += gap


fig.text(fx(1397), fy(95), 'Results of the measurement', fontsize=60, color=POSTER_RED,
         va='baseline', ha='left')

intro_lines = [
    'For the first time at the LHC, normalized differential cross-sections are measured',
    'as functions of transverse momentum, (pseudo-)rapidity, and the invariant mass',
    'of the final state leptons, the top quarks, and the top-antitop system in the visi-',
    'ble phase space. The dataset corresponds to 1.14 fb$^{-1}$',
]
intro_just = [True, True, True, False]
intro_size = fit_size(intro_lines, intro_just, 3353 - 1400, 0.985)
draw_block(intro_lines, 1400, 3353, [167, 233, 300, 367], intro_size, intro_just)

note_lines = [
    'In all results, the data points have been placed at',
    'the intersection of the fit to the [r:MadGraph] simula-',
    'tion (the [o:curve]) and the measurement in that bin',
    '(horizontal [r:line]).',
    '',
    'Also shown are the fits to results of the [g:POWHEG]',
    'simulation and the [b:MC@NLO] simulation. The',
    'MC@NLO has also been provided with one-sigma',
    'error bands.',
]
note_just = [True, True, True, False, False, True, True, True, False]
note_size = fit_size(note_lines, note_just, 4711 - 3735, 0.95)
draw_block(note_lines, 3735, 4711, [1425, 1489, 1556, 1617, 1683, 1750, 1814, 1878, 1939],
           note_size, note_just)

fig.savefig('out.png', dpi=100, facecolor='white')
